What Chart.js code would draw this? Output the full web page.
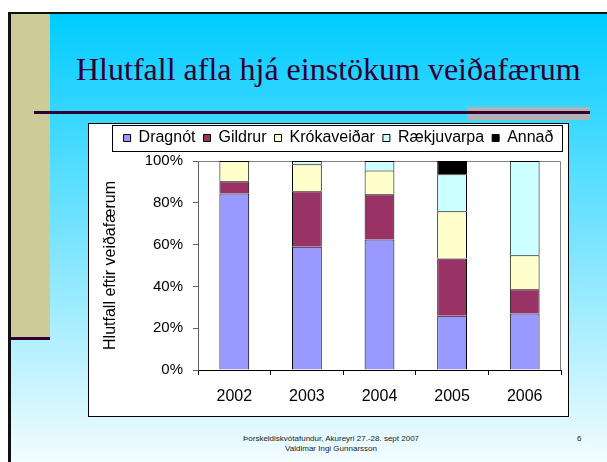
<!DOCTYPE html>
<html lang="is">
<head>
  <meta charset="UTF-8">
  <title>Hlutfall afla hjá einstökum veiðafærum</title>
  <script src="https://cdn.jsdelivr.net/npm/chart.js"></script>
  <style>
    body { margin: 0; width: 607px; height: 462px; overflow: hidden; background: #fff; position: relative; font-family: "Liberation Sans", Arial, sans-serif; }
    .abs { position: absolute; }
    #slide { left: 8px; top: 12px; width: 620px; height: 470px; border-left: 3px solid #111; border-top: 2px solid #111;
             background: linear-gradient(#00ccff, #ffffff); }
    #khaki { left: 11px; top: 14px; width: 39px; height: 323px; background: #cccc99; }
    #khakiLine { left: 11px; top: 337px; width: 39px; height: 3px; background: #330033; }
    #grayBar { left: 467px; top: 107px; width: 123px; height: 13px; background: #b2b2b2; }
    #rule { left: 34px; top: 111px; width: 556px; height: 3px; background: #330033; }
    #title { left: 76px; top: 53px; font: 32px/32px "Liberation Serif", "Times New Roman", serif; color: #330033; white-space: nowrap; }
    #box { left: 88px; top: 123px; width: 479px; height: 292px; border: 1px solid #000; background: #fff; }
    #footer { left: 231px; top: 434px; width: 200px; text-align: center; font-size: 8px; line-height: 10px; color: #222; white-space: nowrap; }
    #page { left: 577px; top: 434px; font-size: 8px; line-height: 10px; color: #222; }
  </style>
</head>
<body>
  <div id="slide" class="abs"></div>
  <div id="khaki" class="abs"></div>
  <div id="khakiLine" class="abs"></div>
  <div id="grayBar" class="abs"></div>
  <div id="rule" class="abs"></div>
  <div id="title" class="abs">Hlutfall afla hjá einstökum veiðafærum</div>
  <div id="box" class="abs"><canvas id="gearChart" width="479" height="292"></canvas></div>
  <div id="footer" class="abs">Þorskeldiskvótafundur, Akureyri 27.-28. sept 2007<br>Valdimar Ingi Gunnarsson</div>
  <div id="page" class="abs">6</div>

  <script>
    // share of catch by gear type, percent of total per year
    const years = ['2002', '2003', '2004', '2005', '2006'];
    const dragnot = [84.5, 59.0, 62.5, 26.0, 27.0];
    const gildrur = [5.8, 26.5, 21.6, 27.4, 11.6];
    const krokaveidar = [9.7, 12.9, 11.4, 22.6, 16.3];
    const raekjuvarpa = [null, 1.6, 4.5, 17.7, 45.1];
    const annad = [null, null, null, 6.3, null];
    const yTickValues = [0, 20, 40, 60, 80, 100];

    // gray frame round the plot area and a box round the legend
    const frames = {
      id: 'frames',
      beforeDatasetsDraw(chart) {
        const { ctx, chartArea: a } = chart;
        ctx.save();
        ctx.strokeStyle = '#808080';
        ctx.lineWidth = 1;
        ctx.beginPath();
        ctx.moveTo(a.left, Math.round(a.top) + 0.5);
        ctx.lineTo(Math.round(a.right) - 0.5, Math.round(a.top) + 0.5);
        ctx.lineTo(Math.round(a.right) - 0.5, a.bottom);
        ctx.stroke();
        ctx.restore();
      },
      afterDraw(chart) {
        const hb = chart.legend.legendHitBoxes;
        if (!hb || !hb.length) return;
        const first = hb[0], last = hb[hb.length - 1];
        const x0 = Math.round(first.left - 12) + 0.5;
        const x1 = Math.round(last.left + last.width + 9) + 0.5;
        const y0 = Math.round(first.top - 5) + 0.5;
        const y1 = Math.round(first.top + first.height + 5) + 0.5;
        const ctx = chart.ctx;
        ctx.save();
        ctx.strokeStyle = '#000';
        ctx.lineWidth = 1;
        ctx.strokeRect(x0, y0, x1 - x0, y1 - y0);
        ctx.restore();
      }
    };

    const font = { family: '"Liberation Sans", Arial, sans-serif' };

    new Chart(document.getElementById('gearChart'), {
      type: 'bar',
      data: {
        labels: years,
        datasets: [
          { label: 'Dragnót', data: dragnot, backgroundColor: '#9999ff' },
          { label: 'Gildrur', data: gildrur, backgroundColor: '#993366' },
          { label: 'Krókaveiðar', data: krokaveidar, backgroundColor: '#ffffcc' },
          { label: 'Rækjuvarpa', data: raekjuvarpa, backgroundColor: '#ccffff' },
          { label: 'Annað', data: annad, backgroundColor: '#000000' }
        ].map(d => Object.assign(d, {
          borderColor: '#000', borderWidth: 1, categoryPercentage: 1.0, barPercentage: 0.41
        }))
      },
      options: {
        responsive: false,
        animation: false,
        layout: { padding: { top: -2, left: 20, right: 0, bottom: 0 } },
        plugins: {
          legend: {
            position: 'top',
            labels: {
              boxWidth: 7, boxHeight: 7, padding: 8, color: '#000',
              font: Object.assign({ size: 16 }, font)
            }
          },
          // empty title used as a small gap between legend and plot
          title: { display: true, text: '', weight: 500, font: { size: 1, lineHeight: 1 }, padding: { top: 2, bottom: 2 } },
          tooltip: { enabled: false }
        },
        scales: {
          x: {
            stacked: true,
            afterFit: s => { s.height = 46; },
            grid: { drawOnChartArea: false, tickLength: 5, color: '#000' },
            border: { color: '#000', width: 1 },
            ticks: { color: '#000', padding: 12, font: Object.assign({ size: 16 }, font) }
          },
          y: {
            stacked: true,
            min: 0, max: 100,
            afterFit: s => { s.width = 89; },
            afterBuildTicks: s => { s.ticks = yTickValues.map(v => ({ value: v })); },
            grid: { drawOnChartArea: false, tickLength: 5, color: '#606060' },
            border: { color: '#606060', width: 1 },
            ticks: { color: '#000', padding: 10, font: Object.assign({ size: 15 }, font), callback: v => v + '%' },
            title: {
              display: true, text: 'Hlutfall eftir veiðafærum', color: '#000',
              padding: { top: -8, bottom: 0 }, font: Object.assign({ size: 16 }, font)
            }
          },
          // empty right axis, only keeps a narrow margin right of the plot
          gap: {
            position: 'right',
            afterFit: s => { s.width = 7; },
            grid: { display: false },
            border: { display: false },
            ticks: { display: false }
          }
        }
      },
      plugins: [frames]
    });
  </script>
</body>
</html>
